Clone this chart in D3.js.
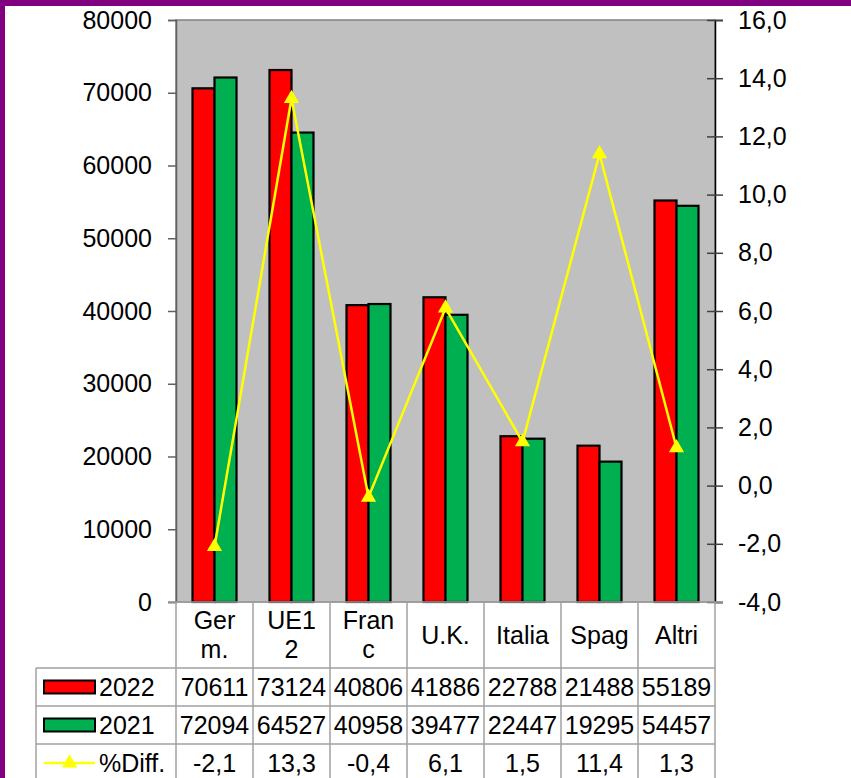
<!DOCTYPE html>
<html lang="it"><head><meta charset="utf-8">
<title>Grafico</title>
<script src="https://cdn.jsdelivr.net/npm/d3@7"></script>
<style>
body { margin: 0; background: #fff; }
text { font-family: "Liberation Sans", Arial, sans-serif; fill: #000; }
</style>
</head>
<body>
<script>
// dati
var categories = ["Germ.", "UE12", "Franc", "U.K.", "Italia", "Spag", "Altri"];
var catLines = [["Ger", "m."], ["UE1", "2"], ["Fran", "c"], ["U.K."], ["Italia"], ["Spag"], ["Altri"]];
var series = ["2022", "2021"];
var values2022 = [70611, 73124, 40806, 41886, 22788, 21488, 55189];
var values2021 = [72094, 64527, 40958, 39477, 22447, 19295, 54457];
var diffPct = [-2.1, 13.3, -0.4, 6.1, 1.5, 11.4, 1.3];
var leftTicks = [0, 10000, 20000, 30000, 40000, 50000, 60000, 70000, 80000];
var rightTicks = [-4, -2, 0, 2, 4, 6, 8, 10, 12, 14, 16];

var W = 851, H = 778;
var plotL = 176, plotR = 715, plotT = 20, plotB = 602;
var rowH = 38, labelRowB = 668;
var fs = 25;
var colors = {"2022": "#ff0000", "2021": "#00b050"};
var gridGray = "#a0a0a0";

// formato italiano con trattino normale
function fmt1(v) { return d3.format(".1f")(v).replace(".", ",").replace("\u2212", "-"); }

var svg = d3.select("body").append("svg")
    .attr("width", W).attr("height", H);

svg.append("rect").attr("width", W).attr("height", H).attr("fill", "#fff");
// cornice viola
svg.append("rect").attr("x", 0).attr("y", 0).attr("width", W).attr("height", 6).attr("fill", "#800080");
svg.append("rect").attr("x", 0).attr("y", 0).attr("width", 5).attr("height", H).attr("fill", "#800080");

var x = d3.scaleBand().domain(categories).range([plotL, plotR]);
var xs = d3.scaleBand().domain(series).range([0, 44]);
var y = d3.scaleLinear().domain([0, 80000]).range([plotB, plotT]);
var y2 = d3.scaleLinear().domain([-4, 16]).range([plotB, plotT]);

svg.append("rect")
    .attr("x", plotL).attr("y", plotT)
    .attr("width", plotR - plotL).attr("height", plotB - plotT)
    .attr("fill", "#c0c0c0")
    .attr("stroke", "#808080").attr("stroke-width", 1.5);

var data = categories.map(function(c, i) {
  return {cat: c, v: {"2022": values2022[i], "2021": values2021[i]}, d: diffPct[i]};
});

var off = (x.bandwidth() - 44) / 2;
var groups = svg.selectAll(".grp").data(data).enter().append("g")
    .attr("class", "grp")
    .attr("transform", function(d) { return "translate(" + (x(d.cat) + off) + ",0)"; });

groups.selectAll("rect").data(function(d) {
    return series.map(function(s) { return {s: s, v: d.v[s]}; });
  }).enter().append("rect")
    .attr("x", function(d) { return xs(d.s); })
    .attr("y", function(d) { return y(d.v); })
    .attr("width", xs.bandwidth())
    .attr("height", function(d) { return plotB - y(d.v); })
    .attr("fill", function(d) { return colors[d.s]; })
    .attr("stroke", "#000").attr("stroke-width", 2.2);

// asse sinistro
var leftAxis = svg.append("g")
    .attr("transform", "translate(" + plotL + ",0)")
    .call(d3.axisLeft(y).tickValues(leftTicks).tickSize(8).tickPadding(16).tickFormat(d3.format("d")));
leftAxis.select(".domain").attr("stroke", "#606060").attr("stroke-width", 1.5);
leftAxis.selectAll(".tick line").attr("stroke", "#606060").attr("stroke-width", 1.5);
leftAxis.selectAll("text").attr("font-size", fs).attr("font-family", "Liberation Sans, Arial, sans-serif");

// asse destro
var rightAxis = svg.append("g")
    .attr("transform", "translate(" + plotR + ",0)")
    .call(d3.axisRight(y2).tickValues(rightTicks).tickSize(8).tickPadding(15).tickFormat(fmt1));
rightAxis.select(".domain").attr("stroke", "#000").attr("stroke-width", 1.5);
rightAxis.selectAll(".tick line").attr("x1", -8).attr("stroke", "#404040").attr("stroke-width", 1.5);
rightAxis.selectAll("text").attr("font-size", fs).attr("font-family", "Liberation Sans, Arial, sans-serif");

// linea %Diff
var line = d3.line()
    .x(function(d) { return x(d.cat) + x.bandwidth() / 2; })
    .y(function(d) { return y2(d.d); });
svg.append("path").datum(data)
    .attr("d", line)
    .attr("fill", "none").attr("stroke", "#ffff00").attr("stroke-width", 2.5);

var tri = d3.symbol().type(d3.symbolTriangle).size(100);
svg.selectAll(".mk").data(data).enter().append("path")
    .attr("class", "mk")
    .attr("d", tri)
    .attr("fill", "#ffff00")
    .attr("transform", function(d) {
      return "translate(" + (x(d.cat) + x.bandwidth() / 2) + "," + y2(d.d) + ")";
    });

// tabella dati
var tab = svg.append("g");
var tableL = 36, tableB = H + 10;
var rowsY = [labelRowB, labelRowB + rowH, labelRowB + 2 * rowH];

// linea di base
tab.append("line").attr("x1", plotL - 8).attr("x2", plotR + 8)
    .attr("y1", plotB).attr("y2", plotB)
    .attr("stroke", gridGray).attr("stroke-width", 1.5);
rowsY.forEach(function(ry) {
  tab.append("line").attr("x1", tableL).attr("x2", plotR)
      .attr("y1", ry).attr("y2", ry)
      .attr("stroke", gridGray).attr("stroke-width", 1.5);
});
tab.append("line").attr("x1", tableL).attr("x2", tableL)
    .attr("y1", labelRowB).attr("y2", tableB)
    .attr("stroke", gridGray).attr("stroke-width", 1.5);
var bounds = categories.map(function(c) { return x(c); }).concat([plotR]);
tab.selectAll(".vl").data(bounds).enter().append("line")
    .attr("class", "vl")
    .attr("x1", function(d) { return d; }).attr("x2", function(d) { return d; })
    .attr("y1", plotB).attr("y2", tableB)
    .attr("stroke", gridGray).attr("stroke-width", 1.5);

// etichette categorie
var labelMid = (plotB + labelRowB) / 2;
data.forEach(function(d, i) {
  var lines = catLines[i];
  var cx = x(d.cat) + x.bandwidth() / 2;
  var t = tab.append("text").attr("text-anchor", "middle").attr("font-size", fs);
  lines.forEach(function(l, j) {
    t.append("tspan").attr("x", cx)
      .attr("y", labelMid + (j - (lines.length - 1) / 2) * 29)
      .attr("dy", "0.35em")
      .text(l);
  });
});

// righe valori
var rowData = [values2022, values2021, diffPct.map(fmt1)];
rowData.forEach(function(vals, r) {
  var cy = rowsY[r] + rowH / 2;
  tab.selectAll(".r" + r).data(vals).enter().append("text")
    .attr("class", "r" + r)
    .attr("x", function(v, i) { return x(categories[i]) + x.bandwidth() / 2; })
    .attr("y", cy).attr("dy", "0.35em")
    .attr("text-anchor", "middle").attr("font-size", fs)
    .text(function(v) { return v; });
});

// legenda nella tabella
series.forEach(function(s, r) {
  var cy = rowsY[r] + rowH / 2;
  tab.append("rect").attr("x", 44).attr("y", cy - 6.5)
      .attr("width", 51).attr("height", 13)
      .attr("fill", colors[s]).attr("stroke", "#000").attr("stroke-width", 2);
  tab.append("text").attr("x", 99).attr("y", cy).attr("dy", "0.35em")
      .attr("font-size", fs).text(s);
});
var ly = rowsY[2] + rowH / 2;
tab.append("line").attr("x1", 44).attr("x2", 95).attr("y1", ly).attr("y2", ly)
    .attr("stroke", "#ffff00").attr("stroke-width", 2.5);
tab.append("path").attr("d", tri).attr("fill", "#ffff00")
    .attr("transform", "translate(69.5," + ly + ")");
tab.append("text").attr("x", 99).attr("y", ly).attr("dy", "0.35em")
    .attr("font-size", fs).text("%Diff.");
</script>
</body></html>
